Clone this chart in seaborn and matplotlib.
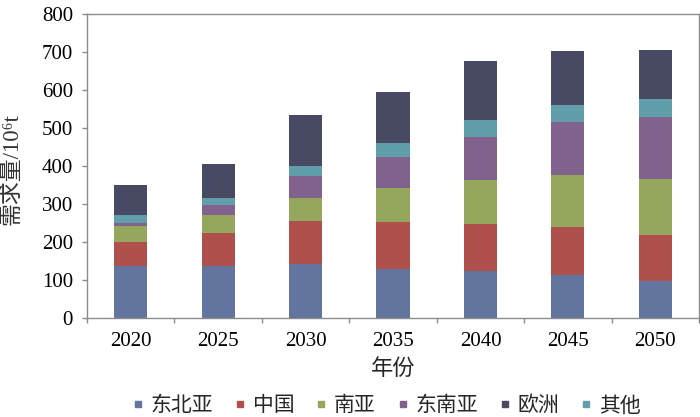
"""
需求量堆叠柱状图（按地区，2020-2050）
"""
import matplotlib
matplotlib.use("Agg")
import matplotlib.pyplot as plt
from matplotlib.lines import Line2D
from matplotlib.ticker import FixedLocator
import seaborn as sns

# 数据（单位：10^6 t）
years = ["2020", "2025", "2030", "2035", "2040", "2045", "2050"]
ne_asia = [138, 136, 142, 130, 124, 113, 98]       # 东北亚
china = [63, 87, 112, 123, 124, 126, 120]          # 中国
south_asia = [40, 47, 62, 89, 114, 137, 147]       # 南亚
se_asia = [10, 28, 58, 82, 114, 140, 165]          # 东南亚
others = [20, 18, 26, 36, 45, 45, 46]              # 其他
europe = [79, 88, 135, 136, 155, 142, 128]         # 欧洲

# 堆叠顺序（自下而上）
stack = [
    ("东北亚", ne_asia, "#61759E"),
    ("中国", china, "#B0504D"),
    ("南亚", south_asia, "#94A75C"),
    ("东南亚", se_asia, "#80628C"),
    ("其他", others, "#629DAA"),
    ("欧洲", europe, "#474A62"),
]
legend_order = ["东北亚", "中国", "南亚", "东南亚", "欧洲", "其他"]

sns.set_style("white")
plt.rcParams['font.family'] = ['Liberation Serif', 'Noto Sans CJK SC']
CJK = ['Noto Sans CJK SC', 'DejaVu Sans']
GRAY = "#8C8C8C"

fig = plt.figure(figsize=(7, 4.17), dpi=100)
ax = fig.add_axes([0.1243, 0.2374, 0.8743, 0.729])

base = [0] * len(years)
for name, vals, color in stack:
    sns.barplot(x=years, y=vals, bottom=base, color=color, saturation=1,
                width=0.38, errorbar=None, linewidth=0, ax=ax)
    base = [b + v for b, v in zip(base, vals)]

ax.set_xlim(-0.5, len(years) - 0.5)
ax.set_ylim(0, 800)
ax.set_yticks(range(0, 900, 100))

# 坐标轴样式
for sp in ax.spines.values():
    sp.set_visible(True)
    sp.set_color(GRAY)
    sp.set_linewidth(1.0)
ax.xaxis.set_minor_locator(FixedLocator([i - 0.5 for i in range(len(years) + 1)]))
ax.tick_params(axis='x', which='major', length=0, pad=10, labelsize=15, colors='black')
ax.tick_params(axis='x', which='minor', bottom=True, length=3.5, width=1, color=GRAY)
ax.tick_params(axis='y', which='major', left=True, length=3.6, width=1, color=GRAY,
               pad=6.5, labelsize=15, labelcolor='black')

ax.set_xlabel("年份", family=CJK, fontsize=16)
ax.xaxis.set_label_coords(0.5, -(368 - 318) / 304)
ax.xaxis.label.set_va('center')
ax.set_ylabel("需求量/10⁶t", fontsize=16.5, color='#333333',
              family=['Liberation Serif', 'Noto Sans CJK SC', 'DejaVu Sans'])
ax.yaxis.set_label_coords(-0.124, 0.49)
ax.yaxis.label.set_va('center')

# 图例
colors = {name: color for name, _, color in stack}
handles = [Line2D([], [], marker='s', linestyle='none', markersize=4.5,
                  color=colors[n]) for n in legend_order]
fig.legend(handles, legend_order, loc='center', bbox_to_anchor=(0.553, 0.028),
           ncol=6, frameon=False, prop={'family': CJK, 'size': 15},
           handlelength=0.4, handletextpad=0.4, columnspacing=1.1, borderaxespad=0)

fig.savefig("out.png", dpi=100)
